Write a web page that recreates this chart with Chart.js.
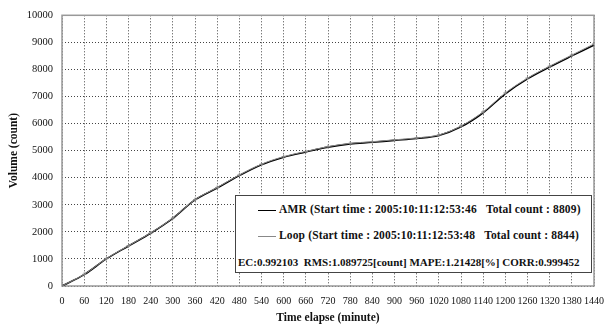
<!DOCTYPE html>
<html>
<head>
<meta charset="utf-8">
<script src="https://cdn.jsdelivr.net/npm/chart.js@4.4.0/dist/chart.umd.min.js"></script>
<style>
  html, body { margin: 0; padding: 0; background: #fff; }
  #wrap { position: relative; width: 616px; height: 331px; }
  #legendBox {
    position: absolute; left: 235px; top: 195px; width: 355px; height: 76px;
    border: 1px solid #444; background: #fff;
    font-family: "Times New Roman", "Liberation Serif", Times, serif; font-weight: bold; font-size: 11.5px; color: #111;
  }
  .row { position: absolute; white-space: nowrap; }
  .sw { display: inline-block; width: 18px; height: 0; vertical-align: middle; margin-right: 3px; }
</style>
</head>
<body>
<div id="wrap">
  <canvas id="c" width="616" height="331"></canvas>
  <div id="legendBox">
    <div class="row" id="r1" style="left:22px; top:7px; letter-spacing:0.15px;"></div>
    <div class="row" id="r2" style="left:22px; top:33px; letter-spacing:0.15px;"></div>
    <div class="row" id="r3" style="left:2px; top:60px; font-size:11px;"></div>
  </div>
</div>
<script>
const minutes = [0,60,120,180,240,300,360,420,480,540,600,660,720,780,840,900,960,1020,1080,1140,1200,1260,1320,1380,1440];
const amr  = [0,420,1000,1480,1950,2500,3180,3620,4080,4480,4760,4950,5130,5250,5310,5380,5450,5560,5880,6400,7100,7650,8090,8500,8900];
const loop = [0,430,1010,1490,1960,2510,3190,3640,4100,4500,4780,4970,5150,5270,5330,5400,5470,5580,5910,6430,7130,7680,8120,8530,8940];
const yTicks = [0,1000,2000,3000,4000,5000,6000,7000,8000,9000,10000];
const legendLabels = [
  "AMR (Start time : 2005:10:11:12:53:46\u00a0\u00a0\u00a0Total count : 8809)",
  "Loop (Start time : 2005:10:11:12:53:48\u00a0\u00a0\u00a0Total count : 8844)"
];
const statsText = "EC:0.992103\u00a0\u00a0RMS:1.089725[count] MAPE:1.21428[%] CORR:0.999452";

document.getElementById('r1').innerHTML = '<span class="sw" style="border-top:1.5px solid #000"></span>' + legendLabels[0];
document.getElementById('r2').innerHTML = '<span class="sw" style="border-top:1px solid #888"></span>' + legendLabels[1];
document.getElementById('r3').textContent = statsText;

const fam = '"Times New Roman", "Liberation Serif", Times, serif';
const yTickFont = { family: fam, size: 10.5 };
const xTickFont = { family: fam, size: 10 };
const titleFont = { family: fam, size: 11.5, weight: 'bold' };

function gridOpts() { return { color: '#444', lineWidth: 1, drawTicks: false }; }
function borderOpts() { return { display: false, dash: [1, 2] }; }

new Chart(document.getElementById('c'), {
  type: 'line',
  data: {
    datasets: [
      { label: 'Loop', data: minutes.map((m,i)=>({x:m,y:loop[i]})), borderColor: '#888', borderWidth: 1,
        pointStyle: 'cross', pointRadius: 2, pointBorderColor: '#888', pointBorderWidth: 1, tension: 0.35 },
      { label: 'AMR', data: minutes.map((m,i)=>({x:m,y:amr[i]})), borderColor: '#000', borderWidth: 1.6,
        pointRadius: 0, tension: 0.35 }
    ]
  },
  options: {
    responsive: false, animation: false, events: [],
    layout: { padding: { top: 9, right: 22, left: 0, bottom: 0 } },
    plugins: { legend: { display: false }, tooltip: { enabled: false } },
    scales: {
      x: {
        type: 'linear', min: 0, max: 1440,
        afterBuildTicks: s => { s.ticks = minutes.map(v => ({ value: v })); },
        afterFit: s => { s.height = 45; },
        grid: gridOpts(),
        border: borderOpts(),
        ticks: { font: xTickFont, color: '#111', padding: 9, maxRotation: 0, autoSkip: false, callback: v => String(v) },
        title: { display: true, text: 'Time elapse (minute)', font: titleFont, color: '#111', padding: { top: 0, bottom: 6 } }
      },
      y: {
        min: 0, max: 10000,
        afterBuildTicks: s => { s.ticks = yTicks.map(v => ({ value: v })); },
        afterFit: s => { s.width = 62; },
        grid: gridOpts(),
        border: borderOpts(),
        ticks: { font: yTickFont, color: '#111', padding: 9, callback: v => String(v) },
        title: { display: true, text: 'Volume (count)', font: titleFont, color: '#111', padding: { top: 7, bottom: 0 } }
      }
    }
  },
  plugins: [{
    id: 'frame',
    beforeDatasetsDraw(chart) {
      const { ctx, chartArea: a } = chart;
      ctx.save();
      ctx.strokeStyle = '#999'; ctx.lineWidth = 1.5;
      ctx.strokeRect(a.left, a.top, a.right - a.left, a.bottom - a.top);
      ctx.restore();
    }
  }]
});
</script>
</body>
</html>
